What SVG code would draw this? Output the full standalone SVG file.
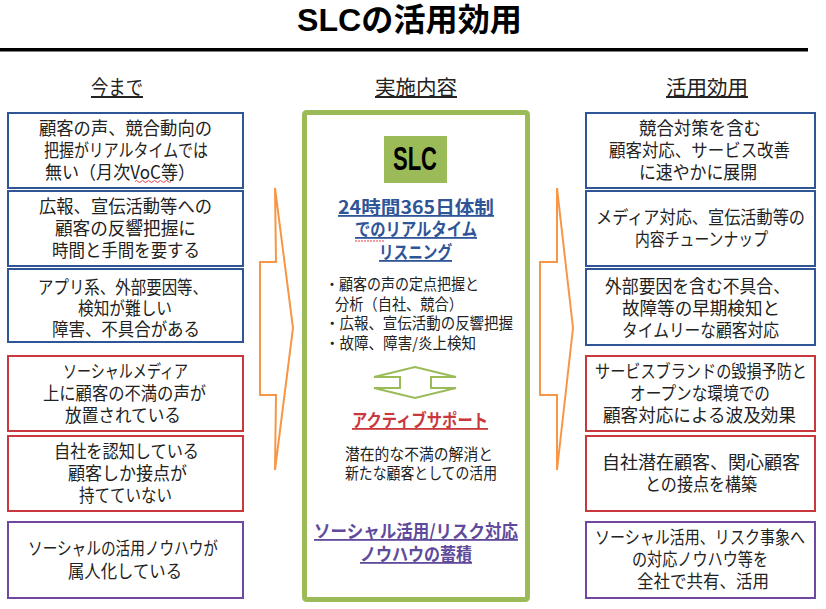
<svg xmlns="http://www.w3.org/2000/svg" width="826" height="609" viewBox="0 0 826 609">
<style>
text{font-family:"Noto Sans CJK JP","Noto Sans",sans-serif;font-size:18px;fill:#222}
.b{fill:#fff;stroke:#2f5597;stroke-width:2}
.r{fill:#fff;stroke:#c8383c;stroke-width:2}
.p{fill:#fff;stroke:#7048a0;stroke-width:2}
.h{font-size:20px;text-decoration:underline}
.l{font-size:15.500px}
.a{fill:#fff;stroke:#f79646;stroke-width:2}
.s{font-weight:700;font-size:18px;text-decoration:underline}
.w{fill:none;stroke:#e04040;stroke-width:1}
</style>
<rect width="826" height="609" fill="#fff"/>
<g id="title"><text x="297" y="31" textLength="225" lengthAdjust="spacingAndGlyphs" style="font-family:'Liberation Sans','Noto Sans CJK JP',sans-serif;font-size:32px;font-weight:700;fill:#000">SLCの活用効用</text><rect x="0" y="48" width="808" height="3.500" fill="#000"/></g>
<g id="heads"><text class="h" x="91" y="95" textLength="52" lengthAdjust="spacingAndGlyphs">今まで</text><text class="h" x="375" y="95" textLength="82" lengthAdjust="spacingAndGlyphs">実施内容</text><text class="h" x="666" y="95" textLength="82" lengthAdjust="spacingAndGlyphs">活用効用</text></g>
<g id="connectors">
<polygon class="a" points="275,188 293,328 275,470 276,395 260,395 260,262 276,262"/>
<polygon class="a" points="557,188 573,328 557,470 557,395 540,395 540,262 557,262"/>
</g>
<g id="left-1"><rect class="b" x="8" y="113" width="235" height="75"/><text x="39" y="135" textLength="173" lengthAdjust="spacingAndGlyphs">顧客の声、競合動向の</text><text x="44" y="157" textLength="164" lengthAdjust="spacingAndGlyphs">把握がリアルタイムでは</text><text x="45" y="179" textLength="150" lengthAdjust="spacingAndGlyphs">無い（月次VoC等）</text><path class="w" d="M135 181.500q1.500-2 3 0t3 0t3 0t3 0t3 0t3 0t3 0t3 0t3 0t3 0t3 0t3 0"/></g>
<g id="left-2"><rect class="b" x="8" y="191" width="235" height="75"/><text x="39" y="213" textLength="173" lengthAdjust="spacingAndGlyphs">広報、宣伝活動等への</text><text x="55" y="235" textLength="141" lengthAdjust="spacingAndGlyphs">顧客の反響把握に</text><text x="52" y="257" textLength="148" lengthAdjust="spacingAndGlyphs">時間と手間を要する</text></g>
<g id="left-3"><rect class="b" x="8" y="269" width="235" height="73"/><text x="38" y="294" textLength="170" lengthAdjust="spacingAndGlyphs">アプリ系、外部要因等、</text><text x="78" y="315" textLength="94" lengthAdjust="spacingAndGlyphs">検知が難しい</text><text x="52" y="336" textLength="148" lengthAdjust="spacingAndGlyphs">障害、不具合がある</text></g>
<g id="left-4"><rect class="r" x="8" y="356" width="235" height="75"/><text x="63" y="378" textLength="125" lengthAdjust="spacingAndGlyphs">ソーシャルメディア</text><text x="43" y="400" textLength="163" lengthAdjust="spacingAndGlyphs">上に顧客の不満の声が</text><text x="65" y="422" textLength="116" lengthAdjust="spacingAndGlyphs">放置されている</text></g>
<g id="left-5"><rect class="r" x="8" y="436" width="235" height="75"/><text x="54" y="458" textLength="145" lengthAdjust="spacingAndGlyphs">自社を認知している</text><text x="68" y="480" textLength="119" lengthAdjust="spacingAndGlyphs">顧客しか接点が</text><text x="79" y="502" textLength="93" lengthAdjust="spacingAndGlyphs">持てていない</text></g>
<g id="left-6"><rect class="p" x="8" y="522" width="235" height="76"/><text x="28" y="555" textLength="190" lengthAdjust="spacingAndGlyphs">ソーシャルの活用ノウハウが</text><text x="68" y="578" textLength="114" lengthAdjust="spacingAndGlyphs">属人化している</text></g>
<g id="center"><rect x="304.500" y="112.500" width="223" height="487" rx="2" fill="#fff" stroke="#9bbb59" stroke-width="5"/>
<rect x="384" y="136" width="63" height="47" fill="#9bbb59"/><text x="393" y="170" textLength="44" lengthAdjust="spacingAndGlyphs" style="font-family:'Liberation Sans',sans-serif;font-size:33px;font-weight:700;fill:#000">SLC</text>
<text class="s" x="338" y="214" textLength="156" lengthAdjust="spacingAndGlyphs" style="fill:#2f5597">24時間365日体制</text><text class="s" x="355" y="236" textLength="122" lengthAdjust="spacingAndGlyphs" style="fill:#2f5597">でのリアルタイム</text><text class="s" x="379" y="259" textLength="73" lengthAdjust="spacingAndGlyphs" style="fill:#2f5597">リスニング</text>
<path d="M355 241h30" fill="none" stroke="#e04040" stroke-width="1" stroke-dasharray="2 1"/>
<text class="l" x="325" y="290" textLength="154" lengthAdjust="spacingAndGlyphs">・顧客の声の定点把握と</text><text class="l" x="335" y="310" textLength="128" lengthAdjust="spacingAndGlyphs">分析（自社、競合）</text><text class="l" x="325" y="329" textLength="188" lengthAdjust="spacingAndGlyphs">・広報、宣伝活動の反響把握</text><text class="l" x="325" y="349" textLength="151" lengthAdjust="spacingAndGlyphs">・故障、障害/炎上検知</text>
<polygon points="415,367 456,377 431,377 431,388 456,388 415,398 374,388 400,388 400,377 374,377" fill="#fff" stroke="#9bbb59" stroke-width="2"/>
<text class="s" x="352" y="427" textLength="136" lengthAdjust="spacingAndGlyphs" style="fill:#c8383c">アクティブサポート</text>
<text x="345" y="460" textLength="148" lengthAdjust="spacingAndGlyphs" style="font-size:16px">潜在的な不満の解消と</text><text x="345" y="479" textLength="152" lengthAdjust="spacingAndGlyphs" style="font-size:16px">新たな顧客としての活用</text>
<text class="s" x="314" y="538" textLength="204" lengthAdjust="spacingAndGlyphs" style="fill:#604a9b">ソーシャル活用/リスク対応</text><text class="s" x="360" y="561" textLength="112" lengthAdjust="spacingAndGlyphs" style="fill:#604a9b">ノウハウの蓄積</text></g>
<g id="right-1"><rect class="b" x="586" y="113" width="229" height="75"/><text x="639" y="135" textLength="122" lengthAdjust="spacingAndGlyphs">競合対策を含む</text><text x="609" y="157" textLength="181" lengthAdjust="spacingAndGlyphs">顧客対応、サービス改善</text><text x="639" y="179" textLength="118" lengthAdjust="spacingAndGlyphs">に速やかに展開</text></g>
<g id="right-2"><rect class="b" x="586" y="191" width="229" height="75"/><text x="596" y="224" textLength="209" lengthAdjust="spacingAndGlyphs">メディア対応、宣伝活動等の</text><text x="635" y="246" textLength="133" lengthAdjust="spacingAndGlyphs">内容チューンナップ</text></g>
<g id="right-3"><rect class="b" x="586" y="269" width="229" height="76"/><text x="605" y="293" textLength="185" lengthAdjust="spacingAndGlyphs">外部要因を含む不具合、</text><text x="622" y="315" textLength="158" lengthAdjust="spacingAndGlyphs">故障等の早期検知と</text><text x="622" y="337" textLength="157" lengthAdjust="spacingAndGlyphs">タイムリーな顧客対応</text></g>
<g id="right-4"><rect class="r" x="586" y="356" width="229" height="75"/><text x="595" y="378" textLength="212" lengthAdjust="spacingAndGlyphs">サービスブランドの毀損予防と</text><text x="630" y="400" textLength="140" lengthAdjust="spacingAndGlyphs">オープンな環境での</text><text x="603" y="422" textLength="193" lengthAdjust="spacingAndGlyphs">顧客対応による波及効果</text></g>
<g id="right-5"><rect class="r" x="586" y="436" width="229" height="75"/><text x="602" y="469" textLength="198" lengthAdjust="spacingAndGlyphs">自社潜在顧客、関心顧客</text><text x="645" y="491" textLength="112" lengthAdjust="spacingAndGlyphs">との接点を構築</text></g>
<g id="right-6"><rect class="p" x="586" y="522" width="229" height="76"/><text x="595" y="544" textLength="210" lengthAdjust="spacingAndGlyphs">ソーシャル活用、リスク事象へ</text><text x="632" y="566" textLength="136" lengthAdjust="spacingAndGlyphs">の対応ノウハウ等を</text><text x="637" y="588" textLength="132" lengthAdjust="spacingAndGlyphs">全社で共有、活用</text></g>
</svg>
